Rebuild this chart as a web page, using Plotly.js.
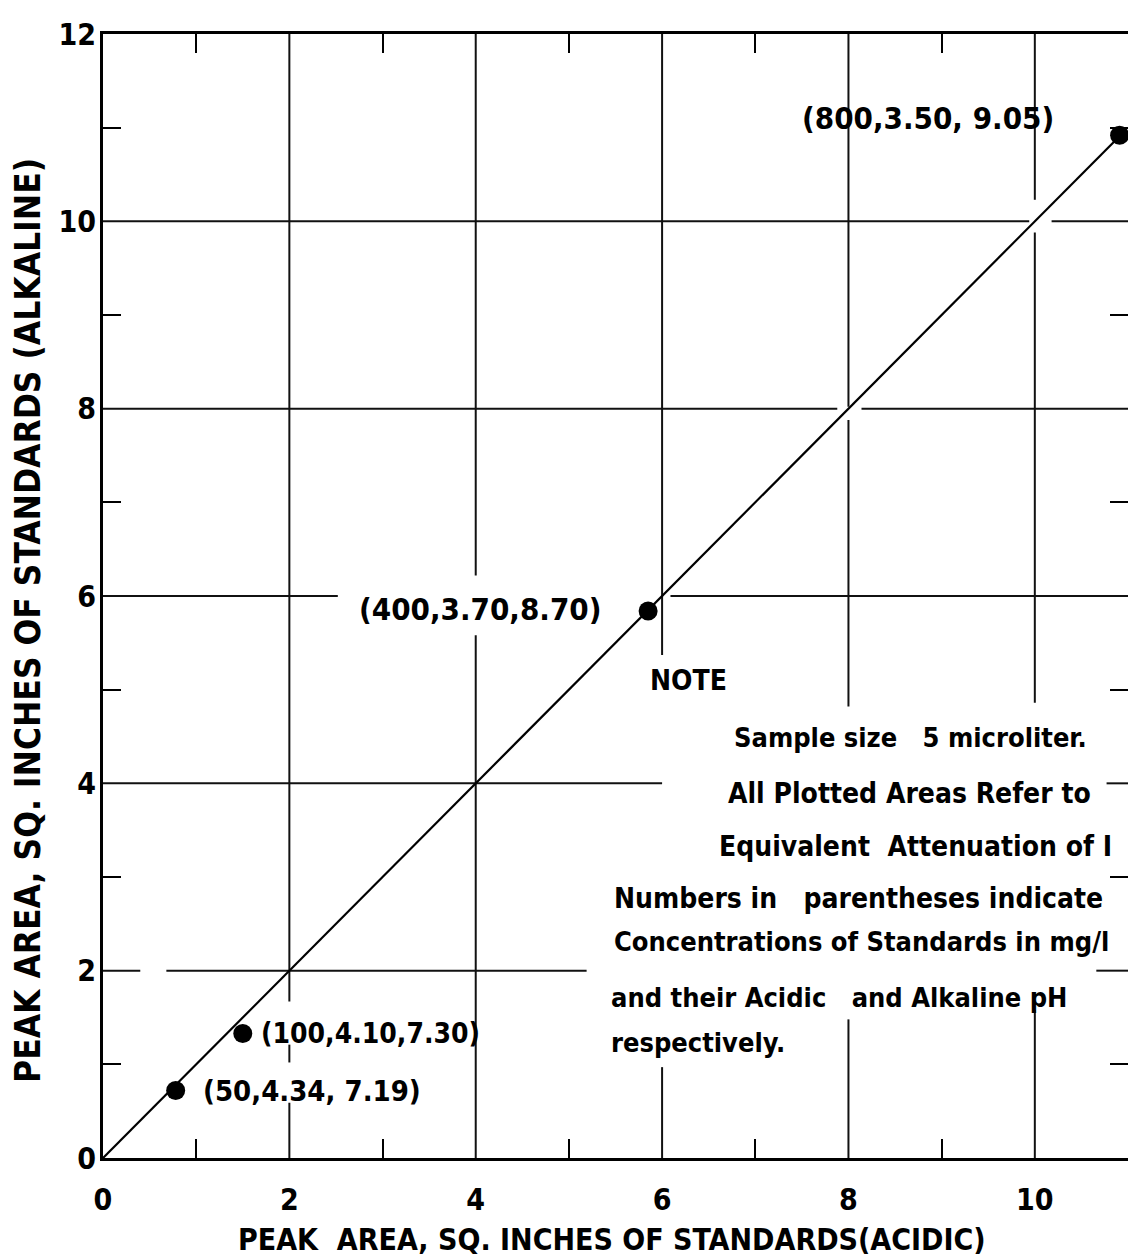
<!DOCTYPE html>
<html>
<head>
<meta charset="utf-8">
<script src="https://cdn.plot.ly/plotly-3.0.1.min.js"></script>
<style>html,body{margin:0;padding:0;background:#fff;}#chart{width:1128px;height:1259px;}</style>
</head>
<body>
<div id="chart"></div>
<script>
// ---- data ----
const acidicArea   = [0.78, 1.50, 5.85, 10.91];   // x: peak area (acidic)
const alkalineArea = [0.72, 1.33, 5.84, 10.92];   // y: peak area (alkaline)
const pointLabels  = ["(50,4.34, 7.19)", "(100,4.10,7.30)", "(400,3.70,8.70)", "(800,3.50, 9.05)"];
const fitX = [0, 10.92];
const fitY = [0, 10.92];
const xTickVals = [0, 2, 4, 6, 8, 10];
const xTickText = ["0", "2", "4", "6", "8", "10"];
const yTickVals = [0, 2, 4, 6, 8, 10, 12];
const yTickText = ["0", "2", "4", "6", "8", "10", "12"];
const xMinor = [1, 3, 5, 7, 9];
const yMinor = [1, 3, 5, 7, 9, 11];
const noteLines = [
  "NOTE",
  "Sample size   5 microliter.",
  "All Plotted Areas Refer to",
  "Equivalent  Attenuation of I",
  "Numbers in   parentheses indicate",
  "Concentrations of Standards in mg/l",
  "and their Acidic   and Alkaline pH",
  "respectively."
];

// ---- hand-drawn grid (segments with gaps like the original) ----
const vGrid = [ // [x, y0, y1]
  [2, 0, 0.59], [2, 1.02, 1.21], [2, 1.67, 12],
  [4, 0, 5.58], [4, 6.22, 12],
  [6, 0, 0.97], [6, 5.37, 12],
  [8, 0, 1.48], [8, 4.82, 7.88], [8, 8.02, 12],
  [10, 0, 1.58], [10, 4.86, 9.88], [10, 10.23, 12]
];
const hGrid = [ // [y, x0, x1]
  [2, 0, 0.40], [2, 0.68, 5.19], [2, 10.66, 11],
  [4, 0, 6.0], [4, 10.77, 11],
  [6, 0, 2.52], [6, 6.09, 11],
  [8, 0, 7.88], [8, 8.14, 11],
  [10, 0, 9.94], [10, 10.18, 11]
];
const shapes = [];
vGrid.forEach(s => shapes.push({type:'line', xref:'x', yref:'y', x0:s[0], x1:s[0], y0:s[1], y1:s[2], line:{color:'#111', width:2}, layer:'below'}));
hGrid.forEach(s => shapes.push({type:'line', xref:'x', yref:'y', y0:s[0], y1:s[0], x0:s[1], x1:s[2], line:{color:'#111', width:2}, layer:'below'}));

const FONT = 'DejaVu Sans Condensed, Liberation Sans Narrow, DejaVu Sans, sans-serif';

const traces = [
  {x: fitX, y: fitY, mode: 'lines', line: {color: '#000', width: 2.2}, hoverinfo: 'skip', showlegend: false, cliponaxis: false},
  {x: acidicArea, y: alkalineArea, mode: 'markers', marker: {color: '#000', size: 19}, showlegend: false, cliponaxis: false}
];

// point label offsets (style only)
const labelStyle = [
  {xanchor: 'left',  xshift: 25,  yshift: 0,  size: 29},
  {xanchor: 'left',  xshift: 16,  yshift: 0,  size: 28},
  {xanchor: 'right', xshift: -44, yshift: 2,  size: 31},
  {xanchor: 'right', xshift: -64, yshift: 17, size: 31}
];
const annotations = pointLabels.map((t, i) => ({
  x: acidicArea[i], y: alkalineArea[i], xref: 'x', yref: 'y', text: t, showarrow: false,
  xanchor: labelStyle[i].xanchor, yanchor: 'middle', xshift: labelStyle[i].xshift, yshift: labelStyle[i].yshift,
  font: {family: FONT, size: labelStyle[i].size, color: '#000', weight: 'bold'}
}));

// note block placement (x in data units, anchor)
const notePos = [
  {x: 5.85, y: 5.10, a: 'left',  s: 28},
  {x: 10.58, y: 4.49, a: 'right', s: 27},
  {x: 10.62, y: 3.89, a: 'right', s: 28},
  {x: 10.85, y: 3.33, a: 'right', s: 28},
  {x: 5.46, y: 2.77, a: 'left',  s: 28},
  {x: 5.46, y: 2.31, a: 'left',  s: 27},
  {x: 5.43, y: 1.71, a: 'left',  s: 27},
  {x: 5.43, y: 1.23, a: 'left',  s: 27}
];
noteLines.forEach((t, i) => annotations.push({
  x: notePos[i].x, y: notePos[i].y, xref: 'x', yref: 'y', text: t, showarrow: false,
  xanchor: notePos[i].a, yanchor: 'middle', font: {family: FONT, size: notePos[i].s, color: '#000', weight: 'bold'}
}));

// axis titles
annotations.push({
  xref: 'paper', yref: 'paper', x: 0.497, y: -0.0725, xanchor: 'center', yanchor: 'middle', showarrow: false,
  text: 'PEAK  AREA, SQ. INCHES OF STANDARDS(ACIDIC)', font: {family: FONT, size: 30, color: '#000', weight: 'bold'}
});
annotations.push({
  xref: 'paper', yref: 'paper', x: -0.073, y: 0.478, xanchor: 'center', yanchor: 'middle', showarrow: false,
  textangle: -90, text: 'PEAK AREA, SQ. INCHES OF STANDARDS (ALKALINE)', font: {family: FONT, size: 35, color: '#000', weight: 'bold'}
});

const layout = {
  width: 1128, height: 1259,
  margin: {l: 103, r: 0, t: 34, b: 101, pad: 0},
  paper_bgcolor: '#fff', plot_bgcolor: '#fff',
  showlegend: false,
  xaxis: {
    range: [0, 11], showgrid: false, zeroline: false,
    showline: true, linecolor: '#000', linewidth: 3, mirror: 'allticks',
    tickmode: 'array', tickvals: xTickVals, ticktext: xTickText, ticks: '',
    ticklabelstandoff: 13,
    tickfont: {family: FONT, size: 30, color: '#000', weight: 'bold'},
    minor: {tickmode: 'array', tickvals: xMinor, ticks: 'inside', ticklen: 19, tickwidth: 2, tickcolor: '#000', showgrid: false}
  },
  yaxis: {
    range: [0, 12], showgrid: false, zeroline: false,
    showline: true, linecolor: '#000', linewidth: 3, mirror: 'allticks',
    tickmode: 'array', tickvals: yTickVals, ticktext: yTickText, ticks: '',
    ticklabelstandoff: -2,
    tickfont: {family: FONT, size: 30, color: '#000', weight: 'bold'},
    minor: {tickmode: 'array', tickvals: yMinor, ticks: 'inside', ticklen: 18, tickwidth: 2, tickcolor: '#000', showgrid: false}
  },
  shapes: shapes,
  annotations: annotations
};

Plotly.newPlot('chart', traces, layout, {displayModeBar: false, staticPlot: true});
</script>
</body>
</html>
